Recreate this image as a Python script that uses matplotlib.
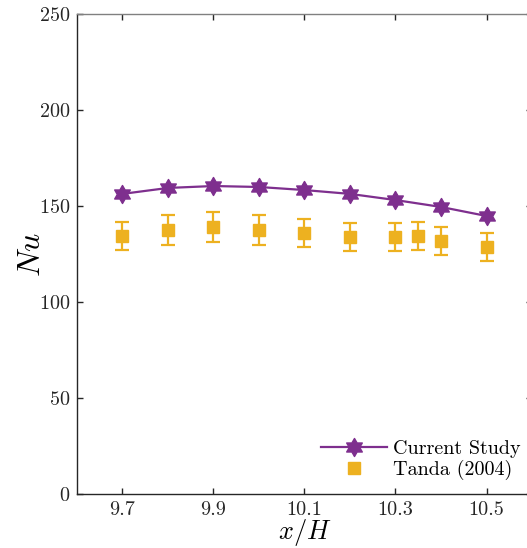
import matplotlib
matplotlib.use("Agg")
import matplotlib.pyplot as plt
from matplotlib.path import Path
from matplotlib.lines import Line2D

plt.rcParams["font.family"] = "cmr10"
plt.rcParams["mathtext.fontset"] = "cm"
plt.rcParams["axes.formatter.use_mathtext"] = True

# Current study: Nusselt number along the channel
x_current = [9.7, 9.8, 9.9, 10.0, 10.1, 10.2, 10.3, 10.4, 10.5]
nu_current = [156.3, 159.4, 160.4, 159.9, 158.3, 156.3, 153.1, 149.5, 144.8]

# Tanda (2004) experimental data with uncertainty
x_tanda = [9.7, 9.8, 9.9, 10.0, 10.1, 10.2, 10.3, 10.35, 10.4, 10.5]
nu_tanda = [134.4, 137.5, 139.1, 137.5, 135.9, 133.9, 133.9, 134.4, 131.8, 128.6]
err_tanda = [7.5, 7.6, 7.7, 7.6, 7.5, 7.4, 7.4, 7.4, 7.3, 7.1]

xticks = [9.7, 9.9, 10.1, 10.3, 10.5]
yticks = [0, 50, 100, 150, 200, 250]

purple = "#7E2F8E"
gold = "#EDB120"

hexagram = Path.unit_regular_star(6, 0.577)

fig = plt.figure(figsize=(5.27, 5.48), dpi=100)
ax = fig.add_axes([0.146, 0.0985, 0.8635, 0.876])

ax.errorbar(x_tanda, nu_tanda, yerr=err_tanda, fmt="s", color=gold,
            markersize=9, elinewidth=1.6, capsize=5, capthick=1.6,
            label="Tanda (2004)", zorder=2)
ax.plot(x_current, nu_current, color=purple, linewidth=1.6,
        marker=hexagram, markersize=13, markeredgecolor=purple,
        markerfacecolor=purple, label="Current Study", zorder=3)

ax.set_xlim(9.6, 10.6)
ax.set_ylim(0, 250)
ax.set_xticks(xticks)
ax.set_xticklabels([f"{t:g}" for t in xticks])
ax.set_yticks(yticks)
ax.tick_params(direction="in", top=True, right=True, labelsize=14.5,
               length=4.5, width=1.0, colors="#262626", pad=5)
for s in ax.spines.values():
    s.set_color("#262626")
    s.set_linewidth(1.0)
ax.spines["top"].set_color("#808080")

ax.set_xlabel(r"$x/H$", fontsize=19, labelpad=-1)
ax.set_ylabel(r"$Nu$", fontsize=23, labelpad=-5)

h_cur = Line2D([], [], color=purple, linewidth=1.6, marker=hexagram,
               markersize=13, markerfacecolor=purple)
h_tan = Line2D([], [], color=gold, linestyle="none", marker="s",
               markersize=9)
ax.legend([h_cur, h_tan], ["Current Study", "Tanda (2004)"],
          loc="lower right", bbox_to_anchor=(1.006, 0.0), frameon=False,
          fontsize=14.5, handlelength=3.3, handletextpad=0.3,
          labelspacing=0.1, borderaxespad=0.3)

fig.savefig("out.png", dpi=100)
